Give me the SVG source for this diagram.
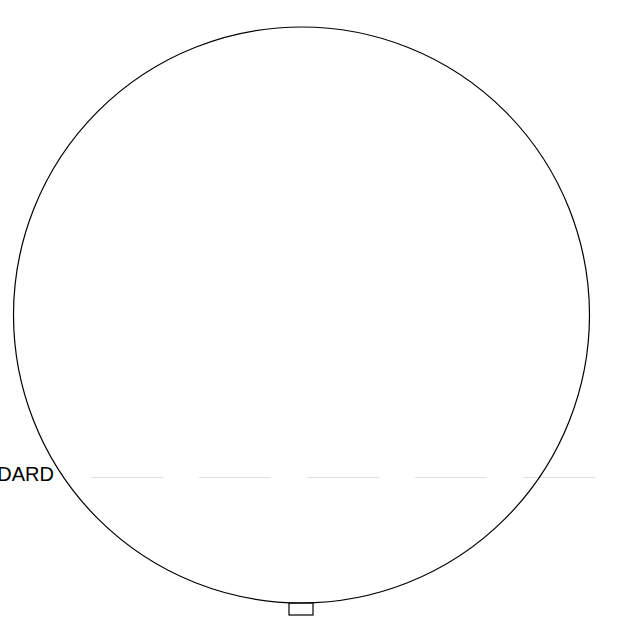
<svg xmlns="http://www.w3.org/2000/svg" width="620" height="634" viewBox="0 0 620 634">
<style>
.ol{fill:none;stroke:#000;stroke-width:1.2}
.lbl{font-family:"Liberation Sans",Arial,sans-serif;font-size:20px;fill:#000}
.dash{stroke:#e0e0e0;stroke-width:1;stroke-dasharray:72 36;fill:none}
</style>
<rect width="620" height="634" fill="#fff"/>
<g id="connectors">
<line class="dash" x1="91" y1="477.5" x2="595" y2="477.5"/>
</g>
<g id="label">
<text class="lbl" x="54" y="481" text-anchor="end">DARD</text>
</g>
<g id="circle">
<circle class="ol" cx="301.5" cy="315" r="288"/>
</g>
<g id="port">
<rect class="ol" x="289" y="603" width="24" height="12"/>
</g>
</svg>
